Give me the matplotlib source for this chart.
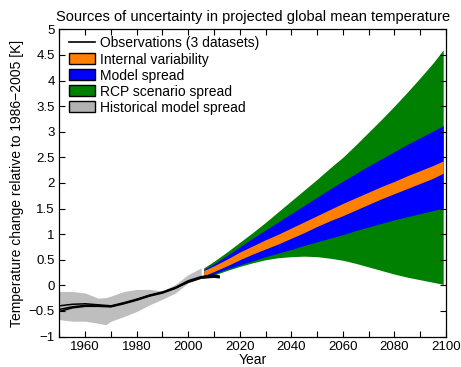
import matplotlib
matplotlib.use('Agg')
import matplotlib.pyplot as plt
from matplotlib.patches import Patch
from matplotlib.lines import Line2D
from matplotlib.ticker import MultipleLocator, FuncFormatter

plt.rcParams['font.family'] = ['Liberation Sans', 'DejaVu Sans']

# Observed anomalies, three datasets
obs_years = [1950, 1955, 1960, 1965, 1970, 1975, 1980, 1985, 1990, 1995, 2000, 2005, 2010, 2012]
obs_a = [-0.51, -0.44, -0.41, -0.41, -0.42, -0.36, -0.29, -0.21, -0.15, -0.06, 0.07, 0.15, 0.18, 0.17]
obs_b = [-0.40, -0.37, -0.36, -0.38, -0.40, -0.34, -0.27, -0.19, -0.13, -0.04, 0.09, 0.17, 0.20, 0.18]
obs_c = [-0.47, -0.42, -0.39, -0.40, -0.41, -0.35, -0.28, -0.20, -0.14, -0.05, 0.06, 0.14, 0.16, 0.15]

# Historical model spread
hist_years = [1950, 1955, 1960, 1965, 1968, 1970, 1975, 1980, 1985, 1990, 1995, 2000, 2005]
hist_hi = [-0.12, -0.12, -0.15, -0.25, -0.24, -0.21, -0.12, -0.08, -0.08, -0.11, 0.02, 0.21, 0.34]
hist_lo = [-0.67, -0.70, -0.70, -0.74, -0.77, -0.70, -0.61, -0.51, -0.38, -0.27, -0.15, 0.05, 0.14]

# Projection bands
proj_years = [2006, 2010, 2015, 2020, 2025, 2030, 2035, 2040, 2045, 2050,
              2055, 2060, 2065, 2070, 2075, 2080, 2085, 2090, 2095, 2099]
rcp_hi = [0.34, 0.47, 0.65, 0.84, 1.03, 1.23, 1.44, 1.65, 1.86, 2.07,
          2.29, 2.50, 2.74, 2.99, 3.24, 3.50, 3.77, 4.05, 4.34, 4.60]
rcp_lo = [0.14, 0.20, 0.29, 0.37, 0.44, 0.50, 0.54, 0.56, 0.57, 0.56,
          0.53, 0.49, 0.43, 0.36, 0.29, 0.22, 0.16, 0.11, 0.06, 0.02]
model_hi = [0.31, 0.42, 0.58, 0.75, 0.92, 1.08, 1.24, 1.40, 1.56, 1.72,
            1.88, 2.03, 2.18, 2.33, 2.47, 2.61, 2.75, 2.88, 3.01, 3.12]
model_lo = [0.17, 0.23, 0.32, 0.40, 0.48, 0.56, 0.63, 0.70, 0.78, 0.85,
            0.92, 0.99, 1.07, 1.14, 1.21, 1.28, 1.34, 1.40, 1.46, 1.51]
int_hi = [0.29, 0.38, 0.51, 0.65, 0.77, 0.89, 1.00, 1.12, 1.24, 1.36,
          1.48, 1.60, 1.71, 1.82, 1.93, 2.03, 2.14, 2.24, 2.34, 2.43]
int_lo = [0.19, 0.27, 0.38, 0.50, 0.61, 0.71, 0.81, 0.92, 1.03, 1.15,
          1.26, 1.36, 1.47, 1.58, 1.69, 1.79, 1.89, 1.99, 2.09, 2.19]

fig = plt.figure(figsize=(4.61, 3.67), dpi=100)
ax = fig.add_axes([0.129, 0.083, 0.838, 0.837])

ax.fill_between(hist_years, hist_lo, hist_hi, color='#BEBEBE', lw=0)
ax.fill_between(proj_years, rcp_lo, rcp_hi, color='#008000', lw=0)
ax.fill_between(proj_years, model_lo, model_hi, color='#0000FF', lw=0)
ax.fill_between(proj_years, int_lo, int_hi, color='#FF8000', lw=0)
for obs in (obs_a, obs_b, obs_c):
    ax.plot(obs_years, obs, color='black', lw=1.1)

ax.set_xlim(1950, 2100)
ax.set_ylim(-1, 5)
ax.xaxis.set_major_locator(MultipleLocator(10))
ax.xaxis.set_major_formatter(FuncFormatter(lambda v, p: '%d' % v if int(v) % 20 == 0 else ''))
ax.yaxis.set_major_locator(MultipleLocator(0.5))
ax.yaxis.set_major_formatter(FuncFormatter(lambda v, p: ('%g' % v).replace('-', '\u2212')))
ax.tick_params(direction='in', top=True, right=True, length=4, width=0.8, labelsize=9.5, pad=3.5)
for s in ax.spines.values():
    s.set_linewidth(0.9)

ax.set_xlabel('Year', fontsize=10, labelpad=0)
ax.set_ylabel('Temperature change relative to 1986\u22122005 [K]', fontsize=10, labelpad=3)
ax.set_title('Sources of uncertainty in projected global mean temperature', fontsize=10.5, pad=6)

handles = [
    Line2D([], [], color='black', lw=1.2),
    Patch(facecolor='#FF8000', edgecolor='black', lw=1),
    Patch(facecolor='#0000FF', edgecolor='black', lw=1),
    Patch(facecolor='#008000', edgecolor='black', lw=1),
    Patch(facecolor='#B2B2B2', edgecolor='black', lw=1),
]
labels = ['Observations (3 datasets)', 'Internal variability', 'Model spread',
          'RCP scenario spread', 'Historical model spread']
ax.legend(handles, labels, loc='upper left', bbox_to_anchor=(0.0246, 0.977),
          frameon=False, fontsize=10, handlelength=1.9, handleheight=0.85,
          handletextpad=0.3, labelspacing=0.15, borderaxespad=0, borderpad=0)

fig.savefig('out.png', dpi=100)
